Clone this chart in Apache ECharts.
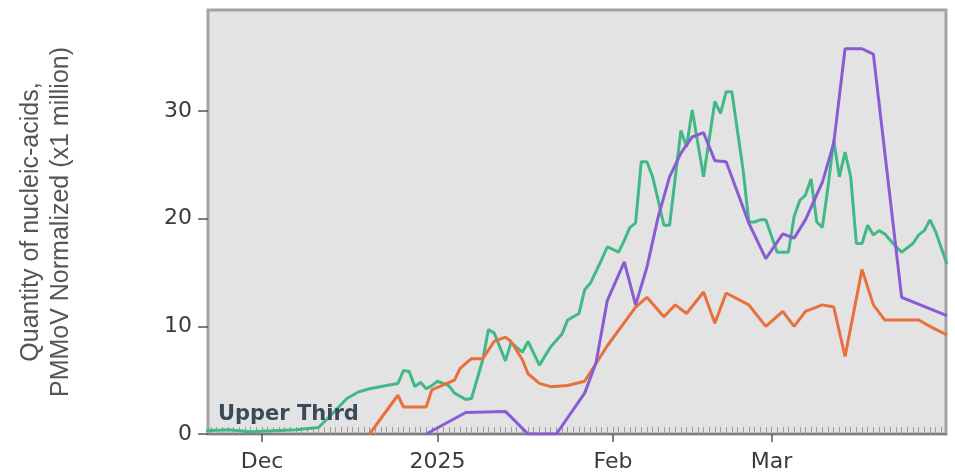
<!DOCTYPE html>
<html><head><meta charset="utf-8">
<script src="https://cdn.jsdelivr.net/npm/echarts@6/dist/echarts.min.js"></script>
<style>html,body{margin:0;padding:0;background:#fff}#c{width:955px;height:475px}</style>
</head><body><div id="c"></div>
<script>
// ---- data ----
const greenDates = ['2024-11-21','2024-11-25','2024-11-29','2024-12-03','2024-12-07','2024-12-11','2024-12-14','2024-12-16','2024-12-18','2024-12-20','2024-12-23','2024-12-25','2024-12-26','2024-12-27','2024-12-28','2024-12-29','2024-12-30','2024-12-31','2025-01-01','2025-01-03','2025-01-04','2025-01-06','2025-01-07','2025-01-09','2025-01-10','2025-01-11','2025-01-13','2025-01-14','2025-01-16','2025-01-17','2025-01-19','2025-01-21','2025-01-23','2025-01-24','2025-01-26','2025-01-27','2025-01-28','2025-01-30','2025-01-31','2025-02-02','2025-02-03','2025-02-04','2025-02-05','2025-02-06','2025-02-07','2025-02-08','2025-02-09','2025-02-10','2025-02-11','2025-02-13','2025-02-14','2025-02-15','2025-02-16','2025-02-17','2025-02-19','2025-02-20','2025-02-21','2025-02-22','2025-02-24','2025-02-25','2025-02-26','2025-02-27','2025-02-28','2025-03-02','2025-03-04','2025-03-05','2025-03-06','2025-03-07','2025-03-08','2025-03-09','2025-03-10','2025-03-11','2025-03-12','2025-03-13','2025-03-14','2025-03-15','2025-03-16','2025-03-17','2025-03-18','2025-03-19','2025-03-20','2025-03-21','2025-03-23','2025-03-24','2025-03-26','2025-03-27','2025-03-28','2025-03-29','2025-03-30','2025-04-01'];
const greenValues = [0.3,0.4,0.2,0.3,0.4,0.6,2.2,3.3,3.9,4.2,4.5,4.7,5.9,5.8,4.4,4.8,4.2,4.5,4.9,4.5,3.8,3.2,3.3,6.9,9.7,9.4,6.8,8.5,7.6,8.6,6.4,8.1,9.3,10.6,11.2,13.4,14.0,16.2,17.4,16.9,18.0,19.2,19.6,25.3,25.3,23.9,21.7,19.4,19.4,28.2,26.7,30.1,27.0,23.9,30.9,29.8,31.8,31.8,24.5,19.7,19.7,19.9,19.9,16.9,16.9,20.2,21.7,22.2,23.7,19.7,19.2,23.0,27.3,23.9,26.2,23.9,17.7,17.7,19.4,18.5,18.9,18.6,17.4,16.9,17.7,18.5,18.9,19.9,18.8,15.8];

const orangeDates = ['2024-12-20','2024-12-25','2024-12-26','2024-12-30','2024-12-31','2025-01-04','2025-01-05','2025-01-07','2025-01-09','2025-01-11','2025-01-13','2025-01-14','2025-01-16','2025-01-17','2025-01-19','2025-01-21','2025-01-24','2025-01-27','2025-01-31','2025-02-05','2025-02-07','2025-02-10','2025-02-12','2025-02-14','2025-02-17','2025-02-19','2025-02-21','2025-02-25','2025-02-28','2025-03-03','2025-03-05','2025-03-07','2025-03-10','2025-03-12','2025-03-14','2025-03-17','2025-03-19','2025-03-21','2025-03-24','2025-03-27','2025-03-29','2025-04-01'];
const orangeValues = [0,3.6,2.5,2.5,4.1,5.0,6.1,7.0,7.0,8.6,9.0,8.6,6.9,5.6,4.7,4.4,4.5,4.9,8.2,11.8,12.7,10.9,12.0,11.2,13.2,10.3,13.1,12.0,10.0,11.4,10.0,11.4,12.0,11.8,7.2,15.3,12.0,10.6,10.6,10.6,10.0,9.2];

const purpleDates = ['2024-12-30','2025-01-06','2025-01-13','2025-01-17','2025-01-22','2025-01-27','2025-01-29','2025-01-31','2025-02-03','2025-02-05','2025-02-07','2025-02-09','2025-02-11','2025-02-13','2025-02-15','2025-02-17','2025-02-19','2025-02-21','2025-02-25','2025-02-28','2025-03-03','2025-03-05','2025-03-07','2025-03-10','2025-03-12','2025-03-14','2025-03-17','2025-03-19','2025-03-24','2025-04-01'];
const purpleValues = [0,2.0,2.1,0,0,3.8,6.6,12.4,16.0,12.0,15.5,20.2,23.9,26.1,27.6,28.0,25.4,25.3,19.6,16.3,18.6,18.2,19.9,23.4,27.0,35.8,35.8,35.3,12.7,11.0];

const monthTicks = ['2024-12-01','2025-01-01','2025-02-01','2025-03-01'];
const monthLabels = ['Dec','2025','Feb','Mar'];
const yTicks = [0,10,20,30];

const xMin = '2024-11-21T11:00:00';
const xMax = '2025-03-31T20:00:00';
const axisTitle = 'Quantity of nucleic-acids,\nPMMoV Normalized (x1 million)';
const regionLabel = 'Upper Third';

// ---- build ----
const toTs = s => new Date(s).getTime();
const pairs = (d, v) => d.map((x, i) => [toTs(x), v[i]]);
const monthTs = monthTicks.map(toTs);
const dayTicks = [];
for (let t = toTs('2024-11-22'); t <= toTs(xMax); t += 86400000) dayTicks.push(t);

const font = '"DejaVu Sans", sans-serif';
const chart = echarts.init(document.getElementById('c'), null, {renderer: 'canvas'});
chart.setOption({
  animation: false,
  grid: {left: 208, right: 9, top: 10, bottom: 41, show: true,
         backgroundColor: '#e3e3e3', borderColor: '#a3a3a3', borderWidth: 3},
  xAxis: [{
    type: 'value', min: toTs(xMin), max: toTs(xMax), position: 'bottom',
    axisLine: {show: true, onZero: false, lineStyle: {color: '#7b7b7b', width: 2}},
    axisTick: {show: true, customValues: monthTs, length: 8, lineStyle: {color: '#555', width: 1.5}},
    axisLabel: {show: true, customValues: monthTs, margin: 17,
      formatter: v => { const i = monthTs.indexOf(v); return i >= 0 ? monthLabels[i] : ''; },
      color: '#3a3a3a', fontSize: 22, fontFamily: font},
    splitLine: {show: false}
  }, {
    type: 'value', min: toTs(xMin), max: toTs(xMax), position: 'bottom',
    axisLine: {show: false, onZero: false},
    axisTick: {show: true, inside: true, customValues: dayTicks, length: 7, lineStyle: {color: '#9c9c9c', width: 1}},
    axisLabel: {show: false},
    splitLine: {show: false}
  }],
  yAxis: {
    type: 'value', min: 0, max: 39.4, interval: 10,
    axisLine: {show: false},
    axisTick: {show: true, customValues: yTicks, length: 10, lineStyle: {color: '#555', width: 1.5}},
    axisLabel: {customValues: yTicks, margin: 16, color: '#3a3a3a', fontSize: 22, fontFamily: font},
    splitLine: {show: false},
    name: axisTitle, nameLocation: 'middle', nameGap: 132, nameRotate: 90,
    nameTextStyle: {color: '#555', fontSize: 25, lineHeight: 30, fontFamily: '"Liberation Sans", Arial, sans-serif'}
  },
  graphic: [{type: 'text', left: 218, top: 404, z: 100,
    style: {text: regionLabel, font: 'bold 21px "DejaVu Sans", sans-serif', fill: '#3b4a5a'}}],
  series: [
    {type: 'line', name: 'green', data: pairs(greenDates, greenValues), showSymbol: false,
     lineStyle: {color: '#41b987', width: 3}, itemStyle: {color: '#41b987'}, z: 3},
    {type: 'line', name: 'orange', data: pairs(orangeDates, orangeValues), showSymbol: false,
     lineStyle: {color: '#e8703c', width: 3}, itemStyle: {color: '#e8703c'}, z: 4},
    {type: 'line', name: 'purple', data: pairs(purpleDates, purpleValues), showSymbol: false,
     lineStyle: {color: '#8a5bd3', width: 3}, itemStyle: {color: '#8a5bd3'}, z: 5}
  ]
});
</script></body></html>
